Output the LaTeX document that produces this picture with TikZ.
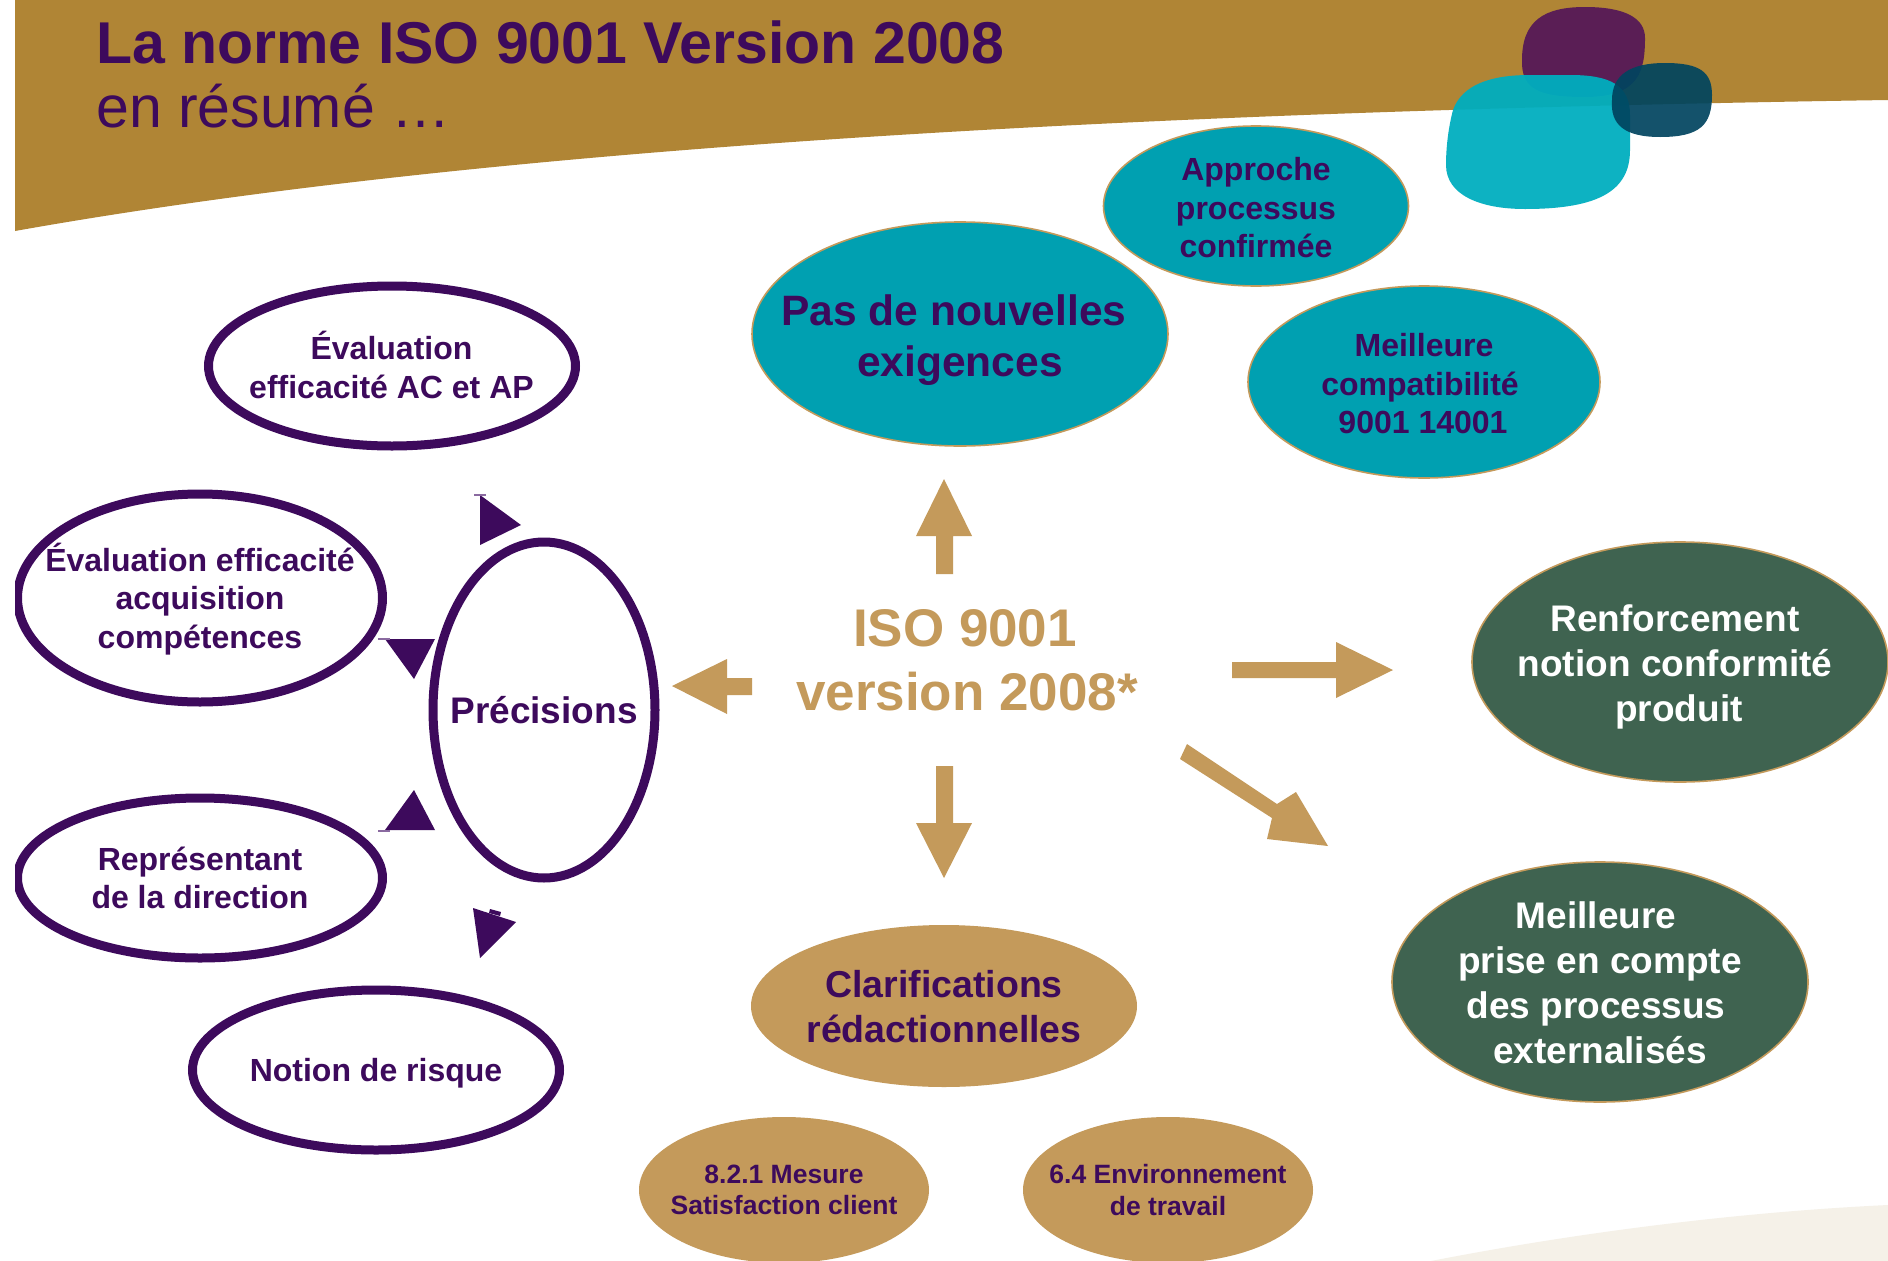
\documentclass[tikz,border=0pt]{standalone}
\usepackage{fontspec}
\setmainfont{Liberation Sans}
\usetikzlibrary{shapes.geometric}
\definecolor{band}{HTML}{B08535}
\definecolor{ink}{HTML}{3D0A5C}
\definecolor{tan}{HTML}{C49A5B}
\definecolor{teal}{HTML}{00A0B1}
\definecolor{pine}{HTML}{3F6350}
\definecolor{cream}{HTML}{F5F1E8}
\definecolor{thinp}{HTML}{8A6AA0}
\newcommand{\mv}[2]{\hbox{\kern#1pt #2}}
\newcommand{\fs}[2]{\fontsize{#1}{#2}\selectfont}
\tikzset{
  oval/.style={ellipse,inner sep=0pt,outer sep=0pt},
  tealoval/.style={oval,fill=teal,draw=tan,line width=1.6pt},
  pineoval/.style={oval,fill=pine,draw=tan,line width=1.6pt},
  tanoval/.style={oval,fill=tan},
  ringoval/.style={oval,fill=white,draw=ink,line width=9pt},
  lab/.style={align=center,inner sep=0pt,text=ink,font=\bfseries\fs{32}{38.5}},
  labbig/.style={lab,font=\bfseries\fs{42.5}{50.5}},
  labmid/.style={lab,font=\bfseries\fs{37.5}{45}},
  labwhite/.style={labmid,text=white},
  labsmall/.style={lab,font=\bfseries\fs{26.5}{31.5}},
  tri/.style={fill=ink},
  tick/.style={draw=thinp,line width=1.2pt},
  blockarrow/.style={fill=tan},
  oval size/.style 2 args={minimum width=#1pt,minimum height=#2pt}
}
\begin{document}
\begin{tikzpicture}[x=1pt,y=-1pt]
\path[use as bounding box] (0,0) rectangle (1888,1261);
\clip (0,0) rectangle (1888,1261);
\fill[white] (0,0) rectangle (1888,1261);
% decor
\fill[band] (15,0) -- (15,231) .. controls (470,150) and (1100,112) .. (1888,100) -- (1888,0) -- cycle;
\fill[cream] (1431,1261) .. controls (1580,1232) and (1740,1212) .. (1888,1205) -- (1888,1261) -- cycle;
% blobs
\fill[fill={rgb,255:red,90;green,30;blue,85}] (1522,60) .. controls (1522,20) and (1545,7) .. (1585,7) .. controls (1625,7) and (1645,18) .. (1645,38) .. controls (1645,70) and (1640,97) .. (1585,97) .. controls (1540,97) and (1521,90) .. (1522,60) -- cycle;
\fill[fill={rgb,255:red,0;green,174;blue,191},opacity=.95] (1453,110) .. controls (1462,85) and (1490,75) .. (1530,75) -- (1570,75) .. controls (1610,75) and (1630,85) .. (1630,115) -- (1630,150) .. controls (1630,190) and (1600,209) .. (1525,209) .. controls (1480,209) and (1446,195) .. (1446,165) .. controls (1446,145) and (1449,125) .. (1453,110) -- cycle;
\fill[fill={rgb,255:red,0;green,68;blue,95},opacity=.92] (1612,100) .. controls (1612,75) and (1630,63) .. (1665,63) .. controls (1700,63) and (1712,72) .. (1712,95) .. controls (1712,125) and (1700,137) .. (1660,137) .. controls (1625,137) and (1610,125) .. (1612,100) -- cycle;
% title
\node[anchor=base west,inner sep=0pt,text=ink,font=\bfseries\fs{59}{60}] (titleA) at (96,63) {La norme ISO 9001 Version 2008};
\node[anchor=base west,inner sep=0pt,text=ink,font=\fs{59}{60}] (titleB) at (96,127) {en résumé …};
% teal group
\node[tealoval,oval size={416}{224}] (pas) at (960,334) {};
\node[labbig] (pasT) at (958,340) {\mv{-8}{Pas de nouvelles}\\\mv{4}{exigences}};
\node[tealoval,oval size={305}{160}] (app) at (1256,206) {};
\node[lab] (appT) at (1256,208) {Approche\\processus\\confirmée};
\node[tealoval,oval size={352}{192}] (com) at (1424,382) {};
\node[lab] (comT) at (1422,384) {\mv{4}{Meilleure}\\\mv{-4}{compatibilité}\\\mv{2}{9001 14001}};
% green group
\node[pineoval,oval size={416}{240}] (ren) at (1680,662) {};
\node[labwhite,font=\bfseries\fs{37}{45}] (renT) at (1675,666.5) {Renforcement\\notion conformité\\\mv{8}{produit}};
\node[pineoval,oval size={416}{240}] (ext) at (1600,982) {};
\node[labwhite,font=\bfseries\fs{37}{45}] (extT) at (1598,983) {\mv{-4}{Meilleure}\\\mv{4}{prise en compte}\\\mv{-4}{des processus}\\\mv{4}{externalisés}};
% tan group
\node[tanoval,oval size={386}{162}] (cla) at (944,1006) {};
\node[labmid] (claT) at (944,1007) {Clarifications\\rédactionnelles};
\node[tanoval,oval size={290}{146}] (mes) at (784,1190) {};
\node[labsmall] (mesT) at (784,1190) {8.2.1 Mesure\\Satisfaction client};
\node[tanoval,oval size={290}{146}] (env) at (1168,1190) {};
\node[labsmall] (envT) at (1168,1190) {6.4 Environnement\\de travail};
% rings
\node[ringoval,oval size={222}{336}] (pre) at (544,710) {};
\node[lab,font=\bfseries\fs{37}{45}] (preT) at (544,710) {Précisions};
\node[ringoval,oval size={367}{160}] (eac) at (392,366) {};
\node[lab] (eacT) at (391.5,365) {Évaluation\\efficacité AC et AP};
\node[ringoval,oval size={365}{208}] (eff) at (200,598) {};
\node[lab] (effT) at (200,599) {Évaluation efficacité\\acquisition\\compétences};
\node[ringoval,oval size={365}{160}] (rep) at (200,878) {};
\node[lab] (repT) at (200,878) {Représentant\\de la direction};
\node[ringoval,oval size={367}{160}] (ris) at (376,1070) {};
\node[lab] (risT) at (376,1073.5) {Notion de risque};
% triangles
\fill[tri] (480,495) -- (521,525) -- (480,545) -- cycle;
\draw[tick] (474,495) -- (486,495);
\fill[tri] (385,639) -- (435,639) -- (414,679) -- cycle;
\draw[tick] (378,639) -- (390,639);
\fill[tri] (414,790) -- (435,830) -- (385,830) -- cycle;
\draw[tick] (378,831) -- (390,831);
\fill[tri] (473,908) -- (516,922) -- (480,958) -- cycle;
\fill[tri] (490,909) -- (501,912) -- (500,916) -- (489,913) -- cycle;
% ISO label
\node[lab,text=tan,font=\bfseries\fs{53}{64}] (iso) at (967,660) {\mv{-4}{ISO 9001}\\version 2008*};
% block arrows
\fill[blockarrow] (944,479) -- (972,536) -- (953,536) -- (953,574) -- (936,574) -- (936,536) -- (916,536) -- cycle;
\fill[blockarrow] (1232,662) -- (1336,662) -- (1336,642) -- (1393,670) -- (1336,698) -- (1336,678) -- (1232,678) -- cycle;
\fill[blockarrow] (672,686) -- (727,659) -- (727,678) -- (752,678) -- (752,695) -- (727,695) -- (727,714) -- cycle;
\fill[blockarrow] (936,766) -- (953,766) -- (953,823) -- (972,823) -- (944,878) -- (916,823) -- (936,823) -- cycle;
\fill[blockarrow] (1187,744) -- (1277,804) -- (1296,792) -- (1328,846) -- (1267,839) -- (1272,818) -- (1180,759) -- cycle;
% left margin
\fill[white] (0,0) rectangle (15,1261);
\end{tikzpicture}
\end{document}
